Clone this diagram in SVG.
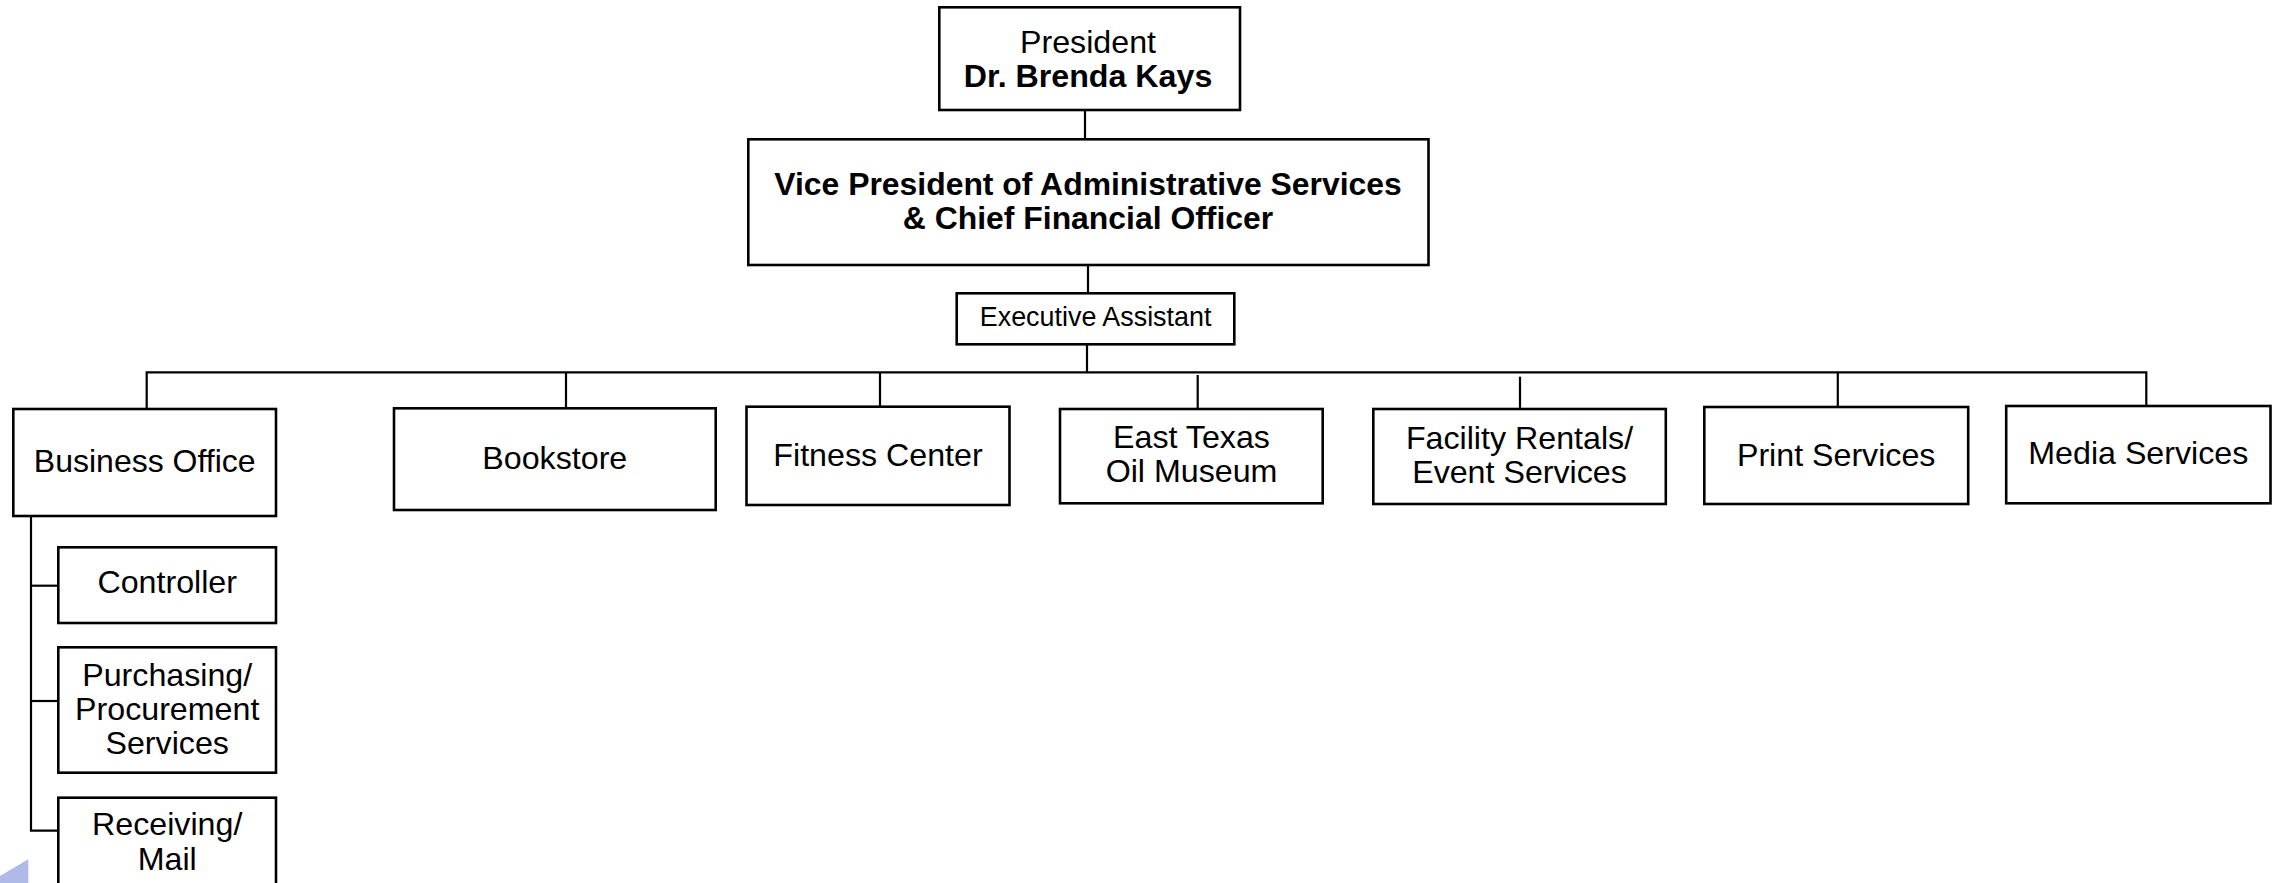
<svg xmlns="http://www.w3.org/2000/svg" width="2285" height="883" viewBox="0 0 2285 883">
<style>
.box{fill:#fff;stroke:#000;stroke-width:2.6}
.ln{fill:none;stroke:#000;stroke-width:2.2}
text{font-family:"Liberation Sans",Arial,sans-serif;fill:#000;text-anchor:middle;font-size:32.2px}
.b{font-weight:bold}
</style>
<rect width="2285" height="883" fill="#fff"/>
<g id="connectors">
<path class="ln" d="M1085,110 V139"/>
<path class="ln" d="M1088,265 V293"/>
<path class="ln" d="M1087,344 V372"/>
<path class="ln" d="M146.7,409 V372.3 H2146.3 V406"/>
<path class="ln" d="M566,372.3 V408"/>
<path class="ln" d="M880,372.3 V407"/>
<path class="ln" d="M1197.7,375 V409"/>
<path class="ln" d="M1520,376.7 V409"/>
<path class="ln" d="M1837.8,372.3 V407"/>
<path class="ln" d="M31,516 V830.7 H58.3"/>
<path class="ln" d="M31,585.7 H58.3"/>
<path class="ln" d="M31,701 H58.3"/>
</g>
<g id="president">
<rect class="box" x="939.3" y="7.3" width="300.7" height="102.7"/>
<text x="1088" y="53.3">President</text>
<text class="b" x="1088" y="87.3">Dr. Brenda Kays</text>
</g>
<g id="vp">
<rect class="box" x="748.3" y="139.3" width="680.2" height="125.7"/>
<text class="b" x="1088" y="195" style="font-size:31.9px">Vice President of Administrative Services</text>
<text class="b" x="1088" y="228.5" style="font-size:31.9px">&amp; Chief Financial Officer</text>
</g>
<g id="exec-assistant">
<rect class="box" x="956.7" y="293.3" width="277.6" height="51"/>
<text x="1095.6" y="325.7" style="font-size:26.9px">Executive Assistant</text>
</g>
<g id="business-office">
<rect class="box" x="13.3" y="409" width="262.7" height="107"/>
<text x="144.7" y="471.5" style="font-size:32px">Business Office</text>
</g>
<g id="controller">
<rect class="box" x="58.3" y="547.3" width="217.7" height="75.7"/>
<text x="167.2" y="593.3">Controller</text>
</g>
<g id="purchasing">
<rect class="box" x="58.3" y="647.3" width="217.7" height="125.4"/>
<text x="167.2" y="685.5">Purchasing/</text>
<text x="167.2" y="719.5">Procurement</text>
<text x="167.2" y="753.5">Services</text>
</g>
<g id="receiving">
<rect class="box" x="58.3" y="797.7" width="217.7" height="100"/>
<text x="167.2" y="835">Receiving/</text>
<text x="167.2" y="869.5">Mail</text>
</g>
<g id="bookstore">
<rect class="box" x="394" y="408.3" width="321.7" height="101.7"/>
<text x="554.8" y="469.3">Bookstore</text>
</g>
<g id="fitness">
<rect class="box" x="746.5" y="406.7" width="263" height="98.3"/>
<text x="878" y="466">Fitness Center</text>
</g>
<g id="east-texas">
<rect class="box" x="1060" y="409" width="262.7" height="94.3"/>
<text x="1191.5" y="448.3">East Texas</text>
<text x="1191.5" y="482.3">Oil Museum</text>
</g>
<g id="facility">
<rect class="box" x="1373.3" y="409" width="292.5" height="95"/>
<text x="1519.5" y="449">Facility Rentals/</text>
<text x="1519.5" y="483">Event Services</text>
</g>
<g id="print">
<rect class="box" x="1704.3" y="407" width="263.9" height="97"/>
<text x="1836.2" y="466">Print Services</text>
</g>
<g id="media">
<rect class="box" x="2006.2" y="406" width="264.3" height="97.3"/>
<text x="2138.3" y="464">Media Services</text>
</g>
<polygon points="28.3,859.3 0,876 0,883 28.3,883" fill="#b0bae9"/>
</svg>
